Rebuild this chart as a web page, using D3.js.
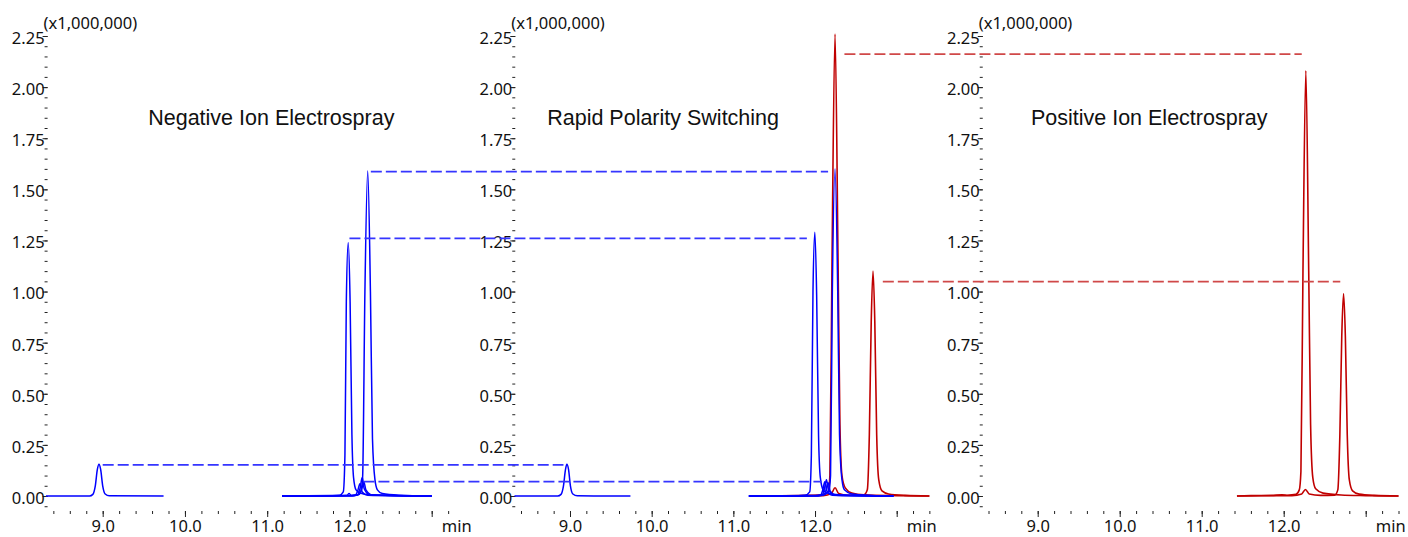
<!DOCTYPE html>
<html>
<head>
<meta charset="utf-8">
<script src="https://cdn.jsdelivr.net/npm/d3@7"></script>
<style>
  body { margin: 0; background: #fff; }
  .tick text { font-family: "Noto Sans", sans-serif; font-size: 16.5px; fill: #111; }
  .tick line { stroke: #222; }
  .unit { font-family: "Noto Sans", sans-serif; font-size: 16.5px; fill: #111; }
  .title { font-family: "Liberation Sans", Arial, sans-serif; font-size: 21.5px; fill: #111; }
</style>
</head>
<body>
<svg id="chart" width="1408" height="537"></svg>
<script>
// chromatogram traces, [time (min), intensity (x1,000,000)]
// negative ion panel
const negA = [[8.31,0],[8.84,0],[8.88,0.008],[8.91,0.05],[8.935,0.13],[8.955,0.155],[8.975,0.13],[9.0,0.05],[9.03,0.01],[9.08,0.001],[9.74,0]];
const negB = [[11.18,0],[11.7,0.001],[11.88,0.004],[11.925,0.02],[11.945,0.2],[11.962,0.95],[11.985,1.24],[12.008,0.95],[12.03,0.3],[12.05,0.09],[12.08,0.03],[12.13,0.015],[12.25,0.006],[12.5,0.003],[13.0,0]];
const negC = [[11.18,0],[11.8,0.002],[11.97,0.004],[11.995,0.012],[12.02,0.004],[12.1,0.006],[12.14,0.025],[12.16,0.09],[12.188,1.0],[12.222,1.59],[12.255,1.0],[12.28,0.28],[12.31,0.08],[12.34,0.03],[12.4,0.012],[12.6,0.004],[13.0,0]];
const negD = [[11.18,0],[12.0,0.001],[12.07,0.004],[12.1,0.025],[12.128,0.06],[12.155,0.02],[12.22,0.004],[13.0,0]];
const negE = [[11.18,0],[12.03,0.001],[12.1,0.006],[12.13,0.04],[12.155,0.09],[12.18,0.035],[12.25,0.006],[13.0,0]];
const negF = [[11.18,0],[12.05,0.001],[12.12,0.008],[12.15,0.035],[12.175,0.07],[12.2,0.03],[12.28,0.005],[13.0,0]];

// polarity switching panel
const midA = [[8.32,0],[8.85,0],[8.89,0.008],[8.92,0.05],[8.945,0.13],[8.962,0.155],[8.982,0.13],[9.005,0.05],[9.035,0.01],[9.09,0.001],[9.74,0]];
const midB = [[11.19,0],[11.7,0.001],[11.88,0.004],[11.935,0.02],[11.955,0.2],[11.975,1.0],[11.998,1.29],[12.02,0.98],[12.043,0.3],[12.065,0.09],[12.1,0.03],[12.15,0.015],[12.3,0.006],[12.6,0.002],[12.96,0]];
const midC = [[11.19,0],[11.9,0.002],[12.1,0.005],[12.17,0.025],[12.19,0.1],[12.212,1.0],[12.245,1.6],[12.278,1.0],[12.3,0.3],[12.33,0.08],[12.36,0.03],[12.45,0.01],[12.7,0.003],[12.96,0]];
const midD = [[11.19,0],[12.0,0.001],[12.07,0.005],[12.095,0.03],[12.12,0.07],[12.145,0.025],[12.21,0.004],[12.96,0]];
const midE = [[11.19,0],[12.03,0.001],[12.09,0.006],[12.115,0.035],[12.14,0.08],[12.165,0.03],[12.24,0.005],[12.96,0]];
const midF = [[11.19,0],[12.05,0.001],[12.11,0.006],[12.135,0.03],[12.16,0.065],[12.185,0.025],[12.26,0.004],[12.96,0]];
const midR1 = [[11.43,0],[11.9,0.003],[12.08,0.006],[12.16,0.02],[12.182,0.1],[12.208,1.15],[12.245,2.26],[12.282,1.15],[12.305,0.35],[12.33,0.1],[12.37,0.04],[12.45,0.015],[12.6,0.006],[13.0,0.002],[13.4,0]];
const midR2 = [[11.43,0],[12.1,0.002],[12.2,0.012],[12.245,0.04],[12.29,0.012],[12.4,0.004],[12.6,0.006],[12.64,0.03],[12.665,0.3],[12.688,0.85],[12.71,1.1],[12.732,0.85],[12.755,0.3],[12.78,0.08],[12.82,0.025],[12.9,0.01],[13.1,0.003],[13.4,0]];

// positive ion panel
const posR1 = [[11.43,0],[11.6,0.002],[11.85,0.003],[11.98,0.006],[12.05,0.004],[12.15,0.008],[12.19,0.03],[12.21,0.12],[12.235,1.1],[12.27,2.08],[12.305,1.1],[12.328,0.35],[12.355,0.09],[12.39,0.035],[12.48,0.014],[12.7,0.005],[13.0,0.002],[13.4,0]];
const posR2 = [[11.43,0],[12.1,0.002],[12.22,0.01],[12.265,0.032],[12.31,0.01],[12.45,0.003],[12.62,0.004],[12.66,0.03],[12.685,0.3],[12.708,0.78],[12.73,0.99],[12.752,0.78],[12.775,0.3],[12.8,0.08],[12.84,0.025],[12.92,0.009],[13.1,0.003],[13.4,0]];

// dashed guides: [intensity, start panel, start time, end panel, end time]
const blueGuides = [[1.587,0,12.26,1,12.16],[1.26,0,12.0,1,11.9],[0.152,0,9.0,1,8.92],[0.07,0,12.17,1,12.08]];
const redGuides = [[2.161,1,12.36,2,12.22],[1.049,1,12.83,2,12.69]];

const panelTitles = ["Negative Ion Electrospray", "Rapid Polarity Switching", "Positive Ion Electrospray"];
const yMajorTicks = [0, 0.25, 0.5, 0.75, 1.0, 1.25, 1.5, 1.75, 2.0, 2.25];
const xLabelTicks = [9, 10, 11, 12];
const xMajorTicks = [9, 10, 11, 12, 13];
const unitLabel = "(x1,000,000)";
const xUnit = "min";

const blue = "#0000ff";
const red = "#c00000";

const svg = d3.select('#chart');

const y = d3.scaleLinear().domain([0, 2.25]).range([496, 36]);

// one x scale per panel
const panels = [
    { x: d3.scaleLinear().domain([9, 13]).range([102.7, 431.7]), end: 13.2, titleT: 11.05,
      red: [], blue: [negA, negB, negC, negD, negE, negF] },
    { x: d3.scaleLinear().domain([9, 13]).range([570, 896.7]), end: 13.4, titleT: 10.14,
      red: [midR1, midR2], blue: [midA, midB, midC, midD, midE, midF] },
    { x: d3.scaleLinear().domain([9, 13]).range([1037.7, 1365.7]), end: 13.4, titleT: 10.36,
      red: [posR1, posR2], blue: [] }
];

const yMinor = d3.range(-0.05, 2.2501, 0.05).map(v => +v.toFixed(2));

panels.forEach((p, i) => {
    const axisX = p.x(8.33);
    const g = svg.append('g');

    // y axis: minor + major ticks, no spine
    g.append('g')
        .attr('transform', `translate(${axisX},0)`)
        .call(d3.axisLeft(y).tickValues(yMinor).tickSize(3).tickFormat(''))
        .call(a => a.select('.domain').remove());
    g.append('g')
        .attr('transform', `translate(${axisX},0)`)
        .call(d3.axisLeft(y).tickValues(yMajorTicks).tickSize(5).tickPadding(-2).tickFormat(d3.format('.2f')))
        .call(a => a.select('.domain').remove())
        .call(a => a.selectAll('text').attr('dy', '0.45em'));

    g.append('text')
        .attr('class', 'unit')
        .attr('x', axisX - 4)
        .attr('y', 29)
        .text(unitLabel);

    // x axis
    const xMinor = d3.range(8.4, p.end + 0.001, 0.2).map(v => +v.toFixed(1));
    g.append('g')
        .attr('transform', 'translate(0,511)')
        .call(d3.axisBottom(p.x).tickValues(xMinor).tickSize(3).tickFormat(''))
        .call(a => a.select('.domain').remove());
    g.append('g')
        .attr('transform', 'translate(0,511)')
        .call(d3.axisBottom(p.x).tickValues(xMajorTicks).tickSize(6).tickPadding(3)
            .tickFormat(d => xLabelTicks.includes(d) ? d3.format('.1f')(d) : ''))
        .call(a => a.select('.domain').remove());

    g.append('text')
        .attr('class', 'unit')
        .attr('x', p.x(13) + 25)
        .attr('y', 532)
        .attr('text-anchor', 'middle')
        .text(xUnit);

    g.append('text')
        .attr('class', 'title')
        .attr('x', p.x(p.titleT))
        .attr('y', 125)
        .attr('text-anchor', 'middle')
        .text(panelTitles[i]);

    const line = d3.line()
        .x(d => p.x(d[0]))
        .y(d => y(d[1]))
        .curve(d3.curveMonotoneX);

    g.selectAll('path.red')
        .data(p.red)
        .enter()
        .append('path')
        .attr('class', 'red')
        .attr('d', line)
        .attr('fill', 'none')
        .attr('stroke', red)
        .attr('stroke-width', 1.6);

    g.selectAll('path.blue')
        .data(p.blue)
        .enter()
        .append('path')
        .attr('class', 'blue')
        .attr('d', line)
        .attr('fill', 'none')
        .attr('stroke', blue)
        .attr('stroke-width', 1.5);
});

// guides across panels
const drawGuides = (rows, colour) => {
    svg.append('g')
        .selectAll('line')
        .data(rows)
        .enter()
        .append('line')
        .attr('x1', d => panels[d[1]].x(d[2]))
        .attr('x2', d => panels[d[3]].x(d[4]))
        .attr('y1', d => y(d[0]))
        .attr('y2', d => y(d[0]))
        .attr('stroke', colour)
        .attr('stroke-width', 1.8)
        .attr('stroke-dasharray', '11,4');
};
drawGuides(blueGuides, '#3535ff');
drawGuides(redGuides, '#d04848');
</script>
</body>
</html>
